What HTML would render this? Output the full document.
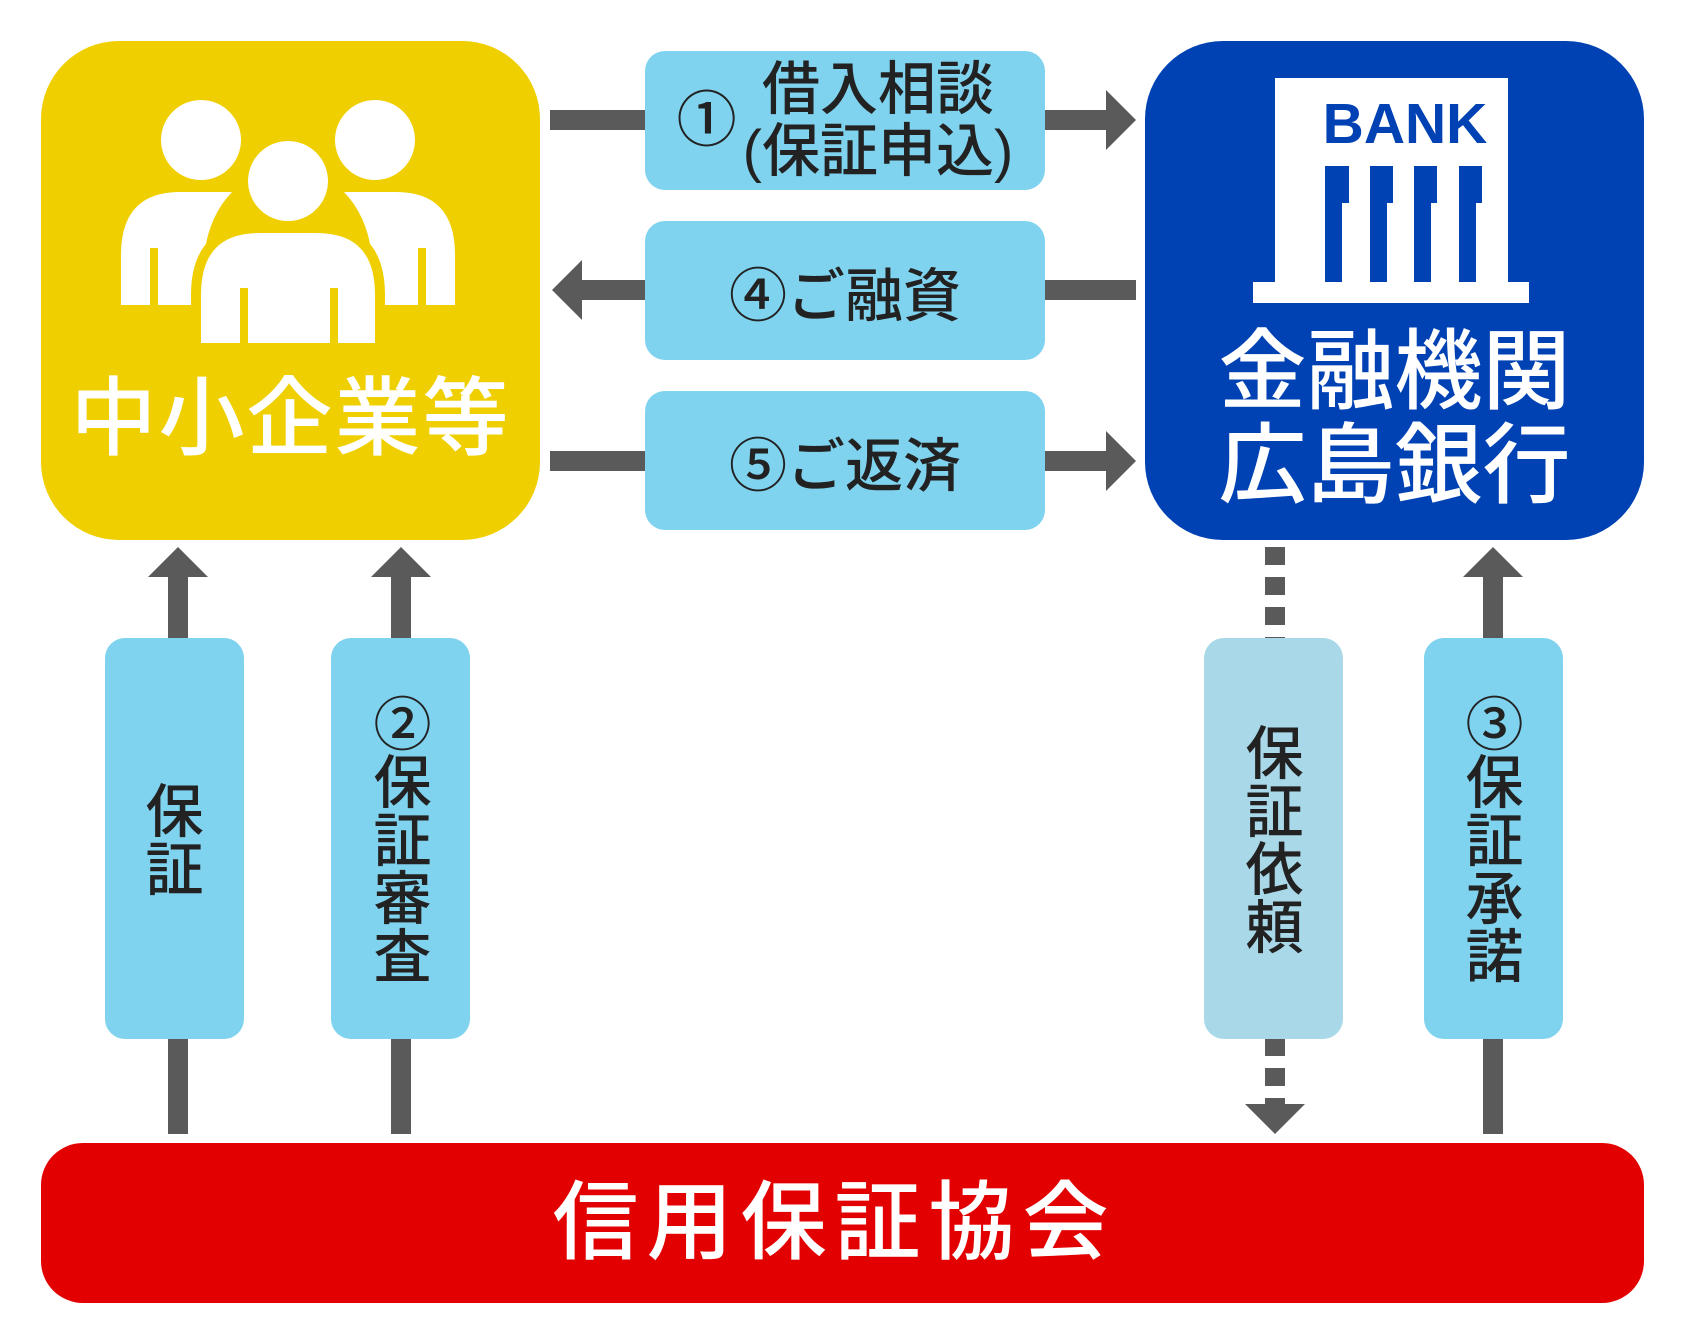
<!DOCTYPE html>
<html><head><meta charset="utf-8"><style>
body{margin:0;width:1685px;height:1336px;background:#fff;position:relative;overflow:hidden;font-family:"Liberation Sans","Noto Sans CJK JP",sans-serif}
.a{position:absolute}
.lb{position:absolute;background:#80d3ef;border-radius:20px;color:#222;display:flex;align-items:center;justify-content:center;font-size:58px;font-weight:500}
.v{writing-mode:vertical-rl;text-orientation:upright;line-height:1}
</style></head><body>
<svg class="a" style="left:0;top:0" width="1685" height="1336">
<rect x="41" y="41" width="499" height="499" rx="78" fill="#f0cf00"/>
<rect x="1145" y="41" width="499" height="499" rx="78" fill="#0041b4"/>
<rect x="41" y="1143" width="1603" height="160" rx="42" fill="#e30000"/>
<g fill="#5a5a5a">
<rect x="550" y="110" width="96" height="20"/><rect x="1044" y="110" width="62" height="20"/><polygon points="1106,90 1136,120 1106,150"/>
<rect x="582" y="280" width="64" height="20"/><rect x="1044" y="280" width="92" height="20"/><polygon points="582,260 552,290 582,320"/>
<rect x="550" y="451" width="96" height="20"/><rect x="1044" y="451" width="62" height="20"/><polygon points="1106,431 1136,461 1106,491"/>
<rect x="168" y="577" width="20" height="62"/><rect x="168" y="1038" width="20" height="96"/><polygon points="148,577 178,547 208,577"/>
<rect x="391" y="577" width="20" height="62"/><rect x="391" y="1038" width="20" height="96"/><polygon points="371,577 401,547 431,577"/>
<rect x="1483" y="577" width="20" height="62"/><rect x="1483" y="1038" width="20" height="96"/><polygon points="1463,577 1493,547 1523,577"/>
<polygon points="1245,1104 1275,1134 1305,1104"/>
</g>
<line x1="1275" y1="547" x2="1275" y2="639" stroke="#5a5a5a" stroke-width="20" stroke-dasharray="18 12"/>
<line x1="1275" y1="1038" x2="1275" y2="1104" stroke="#5a5a5a" stroke-width="20" stroke-dasharray="18 12"/>
<g fill="#fff">
<circle cx="201" cy="140" r="40"/><circle cx="375" cy="140" r="40"/>
<path d="M121,305 V255 Q121,192 180,192 H232 Q210,215 205,250 Q196,275 196,305 Z"/>
<path d="M455,305 V255 Q455,192 396,192 H344 Q366,215 371,250 Q380,275 380,305 Z"/>
<circle cx="288" cy="181" r="46" fill="#f0cf00"/><circle cx="288" cy="181" r="40"/>
<path d="M196,348 V295 Q196,228 260,228 H316 Q380,228 380,295 V348 Z" stroke="#f0cf00" stroke-width="10"/>
</g>
<g fill="#f0cf00"><rect x="150" y="248" width="8" height="60"/><rect x="418" y="248" width="8" height="60"/><rect x="240" y="288" width="8" height="62"/><rect x="330" y="288" width="8" height="62"/></g>
<rect x="1275" y="78" width="233" height="206" fill="#fff"/>
<rect x="1253" y="282" width="276" height="21" fill="#fff"/>
<g fill="#0041b4">
<rect x="1325" y="166" width="24" height="37"/><rect x="1325" y="166" width="17" height="116"/>
<rect x="1370" y="166" width="23" height="37"/><rect x="1370" y="166" width="17" height="116"/>
<rect x="1414" y="166" width="23" height="37"/><rect x="1414" y="166" width="17" height="116"/>
<rect x="1459" y="166" width="23" height="37"/><rect x="1459" y="166" width="17" height="116"/>
</g>
<text x="1405" y="143" text-anchor="middle" font-family="Liberation Sans" font-weight="bold" font-size="57" fill="#0041b4">BANK</text>
</svg>
<div class="a" style="left:41px;top:376px;width:499px;text-align:center;color:#fff;font-size:86px;font-weight:500;letter-spacing:2px;line-height:1">中小企業等</div>
<div class="a" style="left:1145px;top:325px;width:499px;text-align:center;color:#fff;font-size:88px;font-weight:500;line-height:94px">金融機関<br>広島銀行</div>
<div class="a" style="left:33px;top:1180px;width:1603px;text-align:center;color:#fff;font-size:86px;font-weight:500;letter-spacing:8px;line-height:1">信用保証協会</div>
<div class="lb" style="left:645px;top:51px;width:400px;height:139px;line-height:62px"><span style="font-size:60px;margin-right:6px">①</span><span style="text-align:center">借入相談<br>(保証申込)</span></div>
<div class="lb" style="left:645px;top:221px;width:400px;height:139px">④ご融資</div>
<div class="lb" style="left:645px;top:391px;width:400px;height:139px">⑤ご返済</div>
<div class="lb v" style="left:105px;top:638px;width:139px;height:401px;padding-right:12px;box-sizing:border-box">保証</div>
<div class="lb v" style="left:331px;top:638px;width:139px;height:401px;padding-right:8px;box-sizing:border-box">②保証審査</div>
<div class="lb v" style="left:1204px;top:638px;width:139px;height:401px;background:#a9d9e9;padding-right:10px;box-sizing:border-box">保証依頼</div>
<div class="lb v" style="left:1424px;top:638px;width:139px;height:401px;padding-right:10px;box-sizing:border-box">③保証承諾</div>
</body></html>
